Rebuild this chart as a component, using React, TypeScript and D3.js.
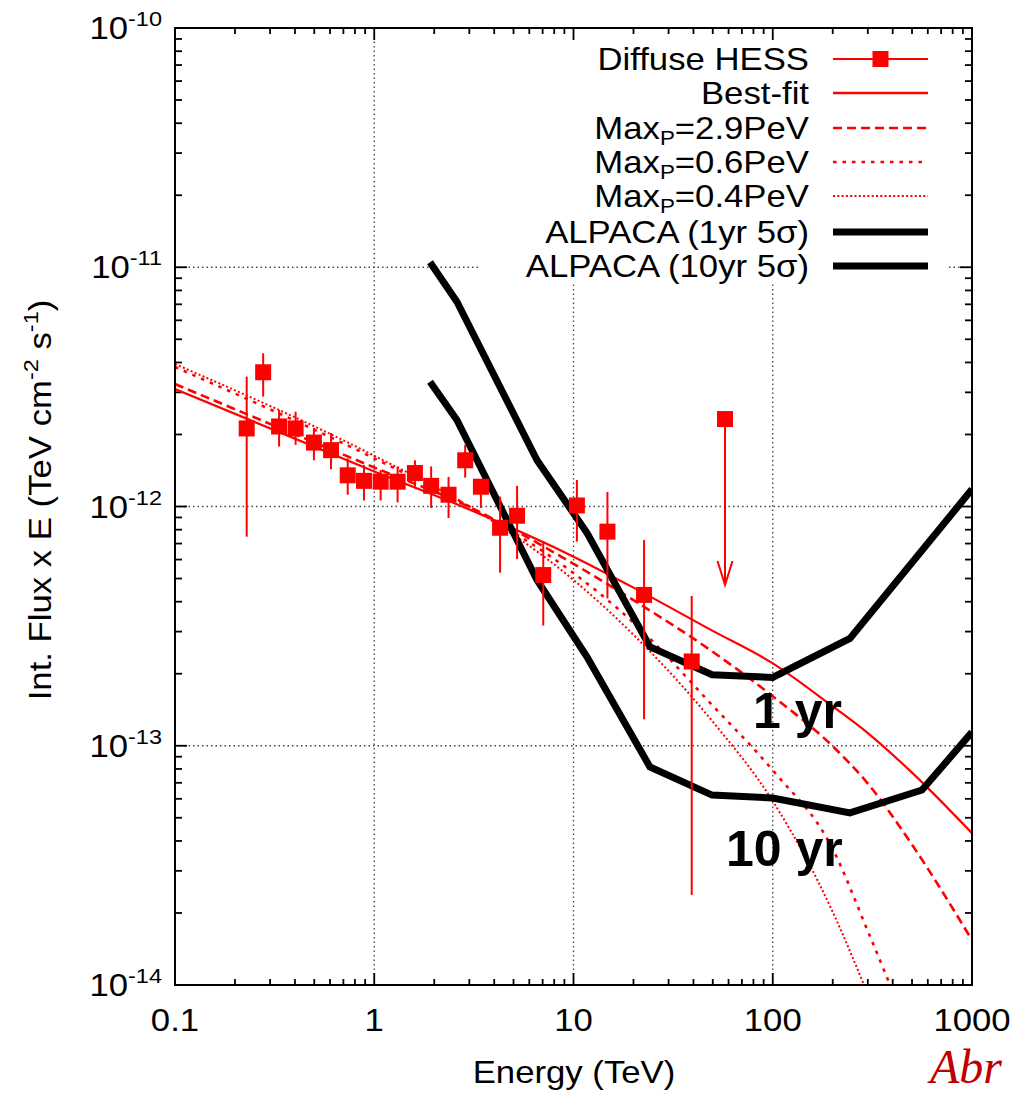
import React from 'react';
import * as d3 from 'd3';

// ---- Data ----
const hessE = [0.229, 0.277, 0.333, 0.403, 0.498, 0.607, 0.736, 0.888, 1.077, 1.31, 1.60, 1.93, 2.36, 2.86, 3.43, 4.28, 5.21, 7.05, 10.4, 14.8, 22.6, 39.2];
const hessF = [2.12e-12, 3.64e-12, 2.16e-12, 2.12e-12, 1.85e-12, 1.72e-12, 1.35e-12, 1.28e-12, 1.27e-12, 1.27e-12, 1.38e-12, 1.22e-12, 1.12e-12, 1.56e-12, 1.21e-12, 8.15e-13, 9.15e-13, 5.17e-13, 1.01e-12, 7.85e-13, 4.27e-13, 2.25e-13];
const hessLo = [7.48e-13, 2.88e-12, 1.78e-12, 1.81e-12, 1.56e-12, 1.43e-12, 1.12e-12, 1.06e-12, 1.06e-12, 1.04e-12, 1.19e-12, 9.86e-13, 8.95e-13, 1.32e-12, 9.86e-13, 5.29e-13, 6.03e-13, 3.18e-13, 7.13e-13, 4.13e-13, 1.29e-13, 2.38e-14];
const hessHi = [3.49e-12, 4.37e-12, 2.53e-12, 2.49e-12, 2.13e-12, 2.03e-12, 1.59e-12, 1.49e-12, 1.42e-12, 1.47e-12, 1.56e-12, 1.47e-12, 1.33e-12, 1.81e-12, 1.29e-12, 1.10e-12, 1.22e-12, 7.13e-13, 1.29e-12, 1.15e-12, 7.24e-13, 4.23e-13];

const ulE = [57.6];
const ulF = [2.32e-12];
const ulTo = [4.70e-13];

const bestE = [0.1, 1, 3, 10, 20, 50, 100, 200, 300, 500, 1000];
const bestF = [3.10e-12, 1.40e-12, 9.71e-13, 6.17e-13, 4.58e-13, 3.02e-13, 2.21e-13, 1.46e-13, 1.13e-13, 7.72e-14, 4.31e-14];

const max29E = [0.1, 1, 3, 10, 20, 50, 100, 200, 300, 500, 1000];
const max29F = [3.25e-12, 1.456e-12, 9.95e-13, 5.76e-13, 4.06e-13, 2.47e-13, 1.61e-13, 9.95e-14, 6.95e-14, 3.86e-14, 1.54e-14];

const max06E = [0.1, 1, 3, 10, 20, 50, 100, 200, 300, 390];
const max06F = [3.83e-12, 1.59e-12, 1.00e-12, 5.27e-13, 3.27e-13, 1.47e-13, 7.89e-14, 3.70e-14, 1.68e-14, 9.9e-15];

const max04E = [0.1, 1, 3, 10, 20, 50, 100, 200, 290];
const max04F = [3.94e-12, 1.63e-12, 1.00e-12, 4.93e-13, 2.91e-13, 1.26e-13, 5.87e-14, 2.02e-14, 9.8e-15];

const alp1E = [1.905, 2.60, 6.56, 11.7, 24.2, 49.6, 100, 244, 1000];
const alp1F = [1.05e-11, 7.18e-12, 1.56e-12, 7.75e-13, 2.59e-13, 1.98e-13, 1.93e-13, 2.81e-13, 1.18e-12];

const alp10E = [1.905, 2.60, 6.56, 11.7, 24.2, 49.6, 100, 244, 561, 1000];
const alp10F = [3.32e-12, 2.30e-12, 4.93e-13, 2.35e-13, 8.15e-14, 6.22e-14, 6.05e-14, 5.24e-14, 6.53e-14, 1.14e-13];

const xTicks = [0.1, 1, 10, 100, 1000];
const xTickLabels = ['0.1', '1', '10', '100', '1000'];
const yTicks = [1e-14, 1e-13, 1e-12, 1e-11, 1e-10];
const yTickExps = ['-14', '-13', '-12', '-11', '-10'];
const xGrid = [1, 10, 100];
const yGrid = [1e-13, 1e-12, 1e-11];

const RED = '#ff0000';
const FONT = "'Liberation Sans', Arial, Helvetica, sans-serif";
const SX = 1.12;

function T({ x, y, rotate = 0, anchor = 'start', size = 31, weight = 'normal', fill = '#000', family = FONT, sx = SX, italic = false, children }: any) {
  return (
    <g transform={`translate(${x},${y}) rotate(${rotate}) scale(${sx},1)`}>
      <text textAnchor={anchor} fontSize={size} fontWeight={weight} fill={fill} fontFamily={family} fontStyle={italic ? 'italic' : 'normal'}>
        {children}
      </text>
    </g>
  );
}

const zip = (a: number[], b: number[]) => a.map((v, i) => [v, b[i]] as [number, number]);

export default function App() {
  const L = 175, R = 972, TOP = 28, B = 985;
  const x = d3.scaleLog().domain([0.1, 1000]).range([L, R]);
  const y = d3.scaleLog().domain([1e-14, 1e-10]).range([B, TOP]);
  const smooth = d3.line<[number, number]>().x(d => x(d[0])).y(d => y(d[1])).curve(d3.curveMonotoneX);
  const poly = d3.line<[number, number]>().x(d => x(d[0])).y(d => y(d[1]));

  const xMinor: number[] = [];
  for (let d = -1; d < 3; d++) for (let k = 2; k <= 9; k++) xMinor.push(k * Math.pow(10, d));
  const yMinor: number[] = [];
  for (let d = -14; d < -10; d++) for (let k = 2; k <= 9; k++) yMinor.push(k * Math.pow(10, d));

  const sq = 16;
  const legX1 = 833, legX2 = 928, legTextX = 809;
  const rows = [59, 93, 128, 162, 196, 232, 266];

  const maxLabel = (v: string) => (
    <>
      <tspan>Max</tspan>
      <tspan fontSize={20} dy={6}>P</tspan>
      <tspan dy={-6}>{`=${v}PeV`}</tspan>
    </>
  );

  return (
    <svg width={1016} height={1093} style={{ position: 'absolute', left: 0, top: 0, background: '#fff' }}>
      <defs>
        <clipPath id="plotclip">
          <rect x={L} y={TOP} width={R - L} height={B - TOP} />
        </clipPath>
      </defs>
      <rect x={0} y={0} width={1016} height={1093} fill="#fff" />

      {/* grid */}
      <g stroke="#444" strokeWidth={1.3} strokeDasharray="1.5,3">
        {xGrid.map(v => <line key={'gx' + v} x1={x(v)} x2={x(v)} y1={TOP} y2={B} />)}
        {yGrid.map(v => <line key={'gy' + v} x1={L} x2={R} y1={y(v)} y2={y(v)} />)}
      </g>

      {/* legend background */}
      <rect x={478} y={38} width={470} height={245} fill="#fff" />

      {/* ticks */}
      <g stroke="#000" strokeWidth={1.8}>
        {xTicks.map(v => (
          <g key={'xt' + v}>
            <line x1={x(v)} x2={x(v)} y1={B} y2={B - 12} />
            <line x1={x(v)} x2={x(v)} y1={TOP} y2={TOP + 12} />
          </g>
        ))}
        {xMinor.map(v => (
          <g key={'xm' + v}>
            <line x1={x(v)} x2={x(v)} y1={B} y2={B - 6} />
            <line x1={x(v)} x2={x(v)} y1={TOP} y2={TOP + 6} />
          </g>
        ))}
        {yTicks.map(v => (
          <g key={'yt' + v}>
            <line x1={L} x2={L + 12} y1={y(v)} y2={y(v)} />
            <line x1={R} x2={R - 12} y1={y(v)} y2={y(v)} />
          </g>
        ))}
        {yMinor.map(v => (
          <g key={'ym' + v}>
            <line x1={L} x2={L + 7} y1={y(v)} y2={y(v)} />
            <line x1={R} x2={R - 7} y1={y(v)} y2={y(v)} />
          </g>
        ))}
      </g>

      {/* model curves */}
      <g clipPath="url(#plotclip)" fill="none" stroke={RED}>
        <path d={smooth(zip(bestE, bestF)) || ''} strokeWidth={2.2} />
        <path d={smooth(zip(max29E, max29F)) || ''} strokeWidth={2.6} strokeDasharray="9,5" />
        <path d={smooth(zip(max06E, max06F)) || ''} strokeWidth={2.6} strokeDasharray="3.5,6" />
        <path d={smooth(zip(max04E, max04F)) || ''} strokeWidth={2} strokeDasharray="2,2.3" />
      </g>

      {/* ALPACA sensitivities */}
      <g clipPath="url(#plotclip)" fill="none" stroke="#000" strokeWidth={7}>
        <path d={poly(zip(alp1E, alp1F)) || ''} />
        <path d={poly(zip(alp10E, alp10F)) || ''} />
      </g>

      {/* HESS points */}
      <g>
        {hessE.map((e, i) => (
          <g key={'h' + i}>
            <line x1={x(e)} x2={x(e)} y1={y(hessLo[i])} y2={y(hessHi[i])} stroke={RED} strokeWidth={2} />
            <rect x={x(e) - sq / 2} y={y(hessF[i]) - sq / 2} width={sq} height={sq} fill={RED} />
          </g>
        ))}
        {ulE.map((e, i) => (
          <g key={'ul' + i}>
            <line x1={x(e)} x2={x(e)} y1={y(ulF[i])} y2={y(ulTo[i])} stroke={RED} strokeWidth={2} />
            <polyline points={`${x(e) - 7.5},${y(ulTo[i]) - 24} ${x(e)},${y(ulTo[i])} ${x(e) + 7.5},${y(ulTo[i]) - 24}`} fill="none" stroke={RED} strokeWidth={2} />
            <rect x={x(e) - sq / 2} y={y(ulF[i]) - sq / 2} width={sq} height={sq} fill={RED} />
          </g>
        ))}
      </g>

      {/* frame */}
      <rect x={L} y={TOP} width={R - L} height={B - TOP} fill="none" stroke="#000" strokeWidth={2} />

      {/* legend */}
      <g>
        <T x={legTextX} y={rows[0] + 11} anchor="end">Diffuse HESS</T>
        <line x1={legX1} x2={legX2} y1={rows[0]} y2={rows[0]} stroke={RED} strokeWidth={2} />
        <rect x={(legX1 + legX2) / 2 - sq / 2} y={rows[0] - sq / 2} width={sq} height={sq} fill={RED} />

        <T x={legTextX} y={rows[1] + 11} anchor="end">Best-fit</T>
        <line x1={legX1} x2={legX2} y1={rows[1]} y2={rows[1]} stroke={RED} strokeWidth={2.6} />

        <T x={legTextX} y={rows[2] + 11} anchor="end">{maxLabel('2.9')}</T>
        <line x1={legX1} x2={legX2} y1={rows[2]} y2={rows[2]} stroke={RED} strokeWidth={2.6} strokeDasharray="9,5" />

        <T x={legTextX} y={rows[3] + 11} anchor="end">{maxLabel('0.6')}</T>
        <line x1={legX1} x2={legX2} y1={rows[3]} y2={rows[3]} stroke={RED} strokeWidth={2.6} strokeDasharray="3.5,6" />

        <T x={legTextX} y={rows[4] + 11} anchor="end">{maxLabel('0.4')}</T>
        <line x1={legX1} x2={legX2} y1={rows[4]} y2={rows[4]} stroke={RED} strokeWidth={2} strokeDasharray="2,2.3" />

        <T x={legTextX} y={rows[5] + 11} anchor="end">ALPACA (1yr 5σ)</T>
        <line x1={legX1} x2={legX2} y1={rows[5]} y2={rows[5]} stroke="#000" strokeWidth={7} />

        <T x={legTextX} y={rows[6] + 11} anchor="end">ALPACA (10yr 5σ)</T>
        <line x1={legX1} x2={legX2} y1={rows[6]} y2={rows[6]} stroke="#000" strokeWidth={7} />
      </g>

      {/* annotations */}
      <T x={753} y={728} size={50} weight="bold" sx={1}>1 yr</T>
      <T x={726} y={866} size={50} weight="bold" sx={1}>10 yr</T>

      {/* x tick labels */}
      {xTicks.map((v, i) => (
        <T key={'xl' + v} x={x(v)} y={1031} anchor="middle">{xTickLabels[i]}</T>
      ))}
      {/* y tick labels */}
      {yTicks.map((v, i) => (
        <T key={'yl' + v} x={162} y={y(v) + 11} anchor="end">
          <tspan>10</tspan>
          <tspan fontSize={21} dy={-13}>{yTickExps[i]}</tspan>
        </T>
      ))}

      {/* axis titles */}
      <T x={574} y={1083} anchor="middle">Energy (TeV)</T>
      <T x={51} y={500} rotate={-90} anchor="middle">
        <tspan>Int. Flux x E (TeV cm</tspan>
        <tspan fontSize={21} dy={-13}>-2</tspan>
        <tspan dy={13}> s</tspan>
        <tspan fontSize={21} dy={-13}>-1</tspan>
        <tspan dy={13}>)</tspan>
      </T>

      <T x={930} y={1083} size={48} italic sx={1} fill="#c00000" family="'Liberation Serif', 'Times New Roman', serif">Abr</T>
    </svg>
  );
}
